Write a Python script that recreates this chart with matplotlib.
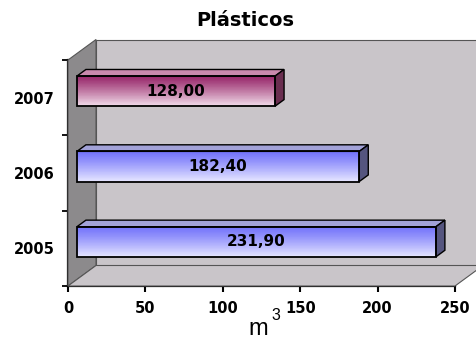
import matplotlib
matplotlib.use("Agg")
import matplotlib.pyplot as plt
from matplotlib.patches import Polygon
from matplotlib.transforms import IdentityTransform
from matplotlib.colors import to_rgb
import numpy as np

# Data
years = ["2005", "2006", "2007"]
volumes = [231.90, 182.40, 128.00]
value_labels = ["231,90", "182,40", "128,00"]
x_ticks = [0, 50, 100, 150, 200, 250]
title = "Plásticos"
unit = "m"
unit_exp = "3"

W, H = 476, 340
DX, DY = 28.0, 20.5          # depth vector of the 3-D box, in pixels
BAR_D0, BAR_D1 = 0.32, 0.64  # depth range occupied by the bars
BAR_H = 0.40                 # bar thickness in category units

fig = plt.figure(figsize=(W / 100, H / 100), dpi=100)
fig.patch.set_facecolor("white")
ax = fig.add_axes([68 / W, 54 / H, (455 - 68) / W, (280 - 54) / H])
ax.set_xlim(0, 250)
ax.set_ylim(-0.5, len(years) - 0.5)
ax.set_facecolor("none")

ident = IdentityTransform()


def px(x, y, depth=0.0):
    X, Y = ax.transData.transform((x, y))
    return (X + depth * DX, Y + depth * DY)


def ax_px(u, v, depth=0.0):
    X, Y = ax.transAxes.transform((u, v))
    return (X + depth * DX, Y + depth * DY)


def poly(points, fc, ec="none", lw=0.0, z=1):
    p = Polygon(points, closed=True, facecolor=fc, edgecolor=ec, linewidth=lw,
                transform=ident, clip_on=False, zorder=z)
    fig.add_artist(p)
    return p


wall_c = "#c9c5c9"
side_c = "#8c8a8c"
edge_c = "#555555"

# back wall
poly([ax_px(0, 0, 1), ax_px(1.2, 0, 1), ax_px(1.2, 1, 1), ax_px(0, 1, 1)],
     wall_c, edge_c, 0.8, z=0.5)
# left wall
poly([ax_px(0, 0, 0), ax_px(0, 0, 1), ax_px(0, 1, 1), ax_px(0, 1, 0)],
     side_c, edge_c, 0.8, z=0.6)
# floor
poly([ax_px(0, 0, 0), ax_px(1, 0, 0), ax_px(1, 0, 1), ax_px(0, 0, 1)],
     wall_c, edge_c, 0.8, z=0.7)

bar_styles = {
    "2005": dict(top="#7272fa", bottom="#e6e6ff", lid="#a2a2d8", side="#55557f"),
    "2006": dict(top="#7272fa", bottom="#e6e6ff", lid="#a2a2d8", side="#55557f"),
    "2007": dict(top="#98286a", bottom="#f2dceb", lid="#c98aad", side="#6a2e50"),
}

n_strips = 40
for i, (yr, v, lab) in enumerate(zip(years, volumes, value_labels)):
    st = bar_styles[yr]
    y0, y1 = i - BAR_H / 2, i + BAR_H / 2
    c_top, c_bot = np.array(to_rgb(st["top"])), np.array(to_rgb(st["bottom"]))
    # gradient front face
    for k in range(n_strips):
        ya = y1 - (y1 - y0) * k / n_strips
        yb = y1 - (y1 - y0) * (k + 1) / n_strips
        t = ((k + 0.5) / n_strips) ** 1.15
        col = c_top * (1 - t) + c_bot * t
        poly([px(0, yb, BAR_D0), px(v, yb, BAR_D0), px(v, ya, BAR_D0), px(0, ya, BAR_D0)],
             col, col, 0.3, z=2)
    # outline of front face
    poly([px(0, y0, BAR_D0), px(v, y0, BAR_D0), px(v, y1, BAR_D0), px(0, y1, BAR_D0)],
         "none", "black", 1.3, z=3)
    # top face
    poly([px(0, y1, BAR_D0), px(v, y1, BAR_D0), px(v, y1, BAR_D1), px(0, y1, BAR_D1)],
         st["lid"], "black", 1.0, z=2.5)
    # right side face
    poly([px(v, y0, BAR_D0), px(v, y0, BAR_D1), px(v, y1, BAR_D1), px(v, y1, BAR_D0)],
         st["side"], "black", 1.0, z=2.5)
    cx, cy = px(v / 2, i, BAR_D0)
    fig.text(cx / W, cy / H, lab, ha="center", va="center", fontsize=11,
             fontweight="bold", family="DejaVu Sans", color="black", zorder=5)

# axes: spines and ticks
for s in ("top", "right"):
    ax.spines[s].set_visible(False)
for s in ("left", "bottom"):
    ax.spines[s].set_linewidth(1.6)
    ax.spines[s].set_color("black")
    ax.spines[s].set_zorder(4)

ax.set_xticks(x_ticks)
ax.set_xticklabels([str(t) for t in x_ticks], fontsize=10.5, fontweight="bold")
ax.tick_params(axis="x", direction="out", length=4, width=1.5, pad=7)

ax.set_yticks(np.arange(-0.5, len(years), 1.0))
ax.set_yticklabels([])
ax.tick_params(axis="y", which="major", direction="out", length=4, width=1.3)
ax.set_yticks(np.arange(len(years)), minor=True)
ax.set_yticklabels(years, minor=True, fontsize=10.5, fontweight="bold")
ax.tick_params(axis="y", which="minor", length=0, pad=9.5)

fig.text(245 / W, 1 - 20 / H, title, ha="center", va="center", fontsize=14,
         fontweight="bold", family="DejaVu Sans")
fig.text(258 / W, 5 / H, unit, ha="center", va="baseline", fontsize=17,
         family="Liberation Sans")
fig.text(276 / W, 20 / H, unit_exp, ha="center", va="baseline", fontsize=11.5,
         family="Liberation Sans")

fig.savefig("out.png", dpi=100)
